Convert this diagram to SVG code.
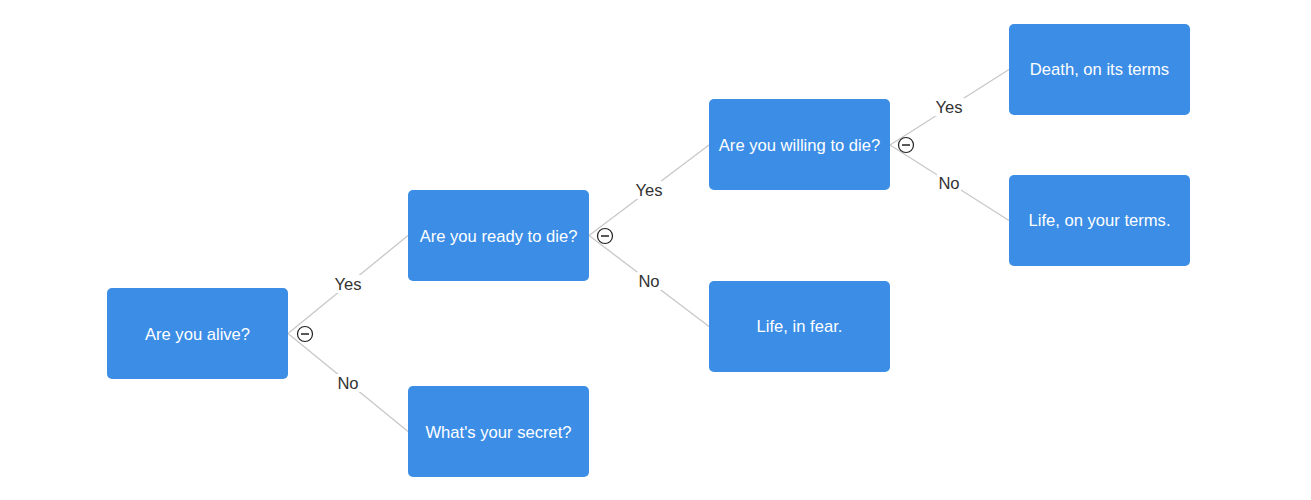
<svg xmlns="http://www.w3.org/2000/svg" width="1311" height="500" viewBox="0 0 1311 500">
<style>
.node rect{fill:#3b8de6;}
.node text{fill:#fff;font-family:"Liberation Sans",Arial,sans-serif;font-size:16.6px;text-anchor:middle;dominant-baseline:central;}
.edge{stroke:#c8c8c8;stroke-width:1.3;fill:none;}
.lbg{fill:#fff;}
.lbl{fill:#333;font-family:"Liberation Sans",Arial,sans-serif;font-size:16.6px;text-anchor:middle;dominant-baseline:central;}
.tog circle{fill:#fff;stroke:#222;stroke-width:1.2;}
.tog line{stroke:#222;stroke-width:1.5;}
</style>
<rect width="1311" height="500" fill="#fff"/>
<g id="connectors">
<line class="edge" x1="288" y1="333.5" x2="408" y2="235.5"/>
<line class="edge" x1="288" y1="333.5" x2="408" y2="431.5"/>
<line class="edge" x1="589" y1="235.5" x2="709" y2="145"/>
<line class="edge" x1="589" y1="235.5" x2="709" y2="326.5"/>
<line class="edge" x1="890" y1="145" x2="1009" y2="69.5"/>
<line class="edge" x1="890" y1="145" x2="1009" y2="220.5"/>
<rect class="lbg" x="333" y="275" width="30" height="18"/>
<text class="lbl" x="348" y="284">Yes</text>
<rect class="lbg" x="336" y="374" width="24" height="18"/>
<text class="lbl" x="348" y="383">No</text>
<rect class="lbg" x="634" y="181" width="30" height="18"/>
<text class="lbl" x="649" y="190">Yes</text>
<rect class="lbg" x="637" y="272" width="24" height="18"/>
<text class="lbl" x="649" y="281">No</text>
<rect class="lbg" x="934" y="98" width="30" height="18"/>
<text class="lbl" x="949" y="107">Yes</text>
<rect class="lbg" x="937" y="174" width="24" height="18"/>
<text class="lbl" x="949" y="183">No</text>
</g>
<g class="tog" id="toggle1"><circle cx="305" cy="334" r="7.5"/><line x1="301" y1="334" x2="309" y2="334"/></g>
<g class="tog" id="toggle2"><circle cx="605" cy="236" r="7.5"/><line x1="601" y1="236" x2="609" y2="236"/></g>
<g class="tog" id="toggle3"><circle cx="906" cy="145" r="7.5"/><line x1="902" y1="145" x2="910" y2="145"/></g>
<g class="node" id="n-alive"><rect x="107" y="288" width="181" height="91" rx="5"/><text x="197.5" y="334">Are you alive?</text></g>
<g class="node" id="n-ready"><rect x="408" y="190" width="181" height="91" rx="5"/><text x="498.5" y="236">Are you ready to die?</text></g>
<g class="node" id="n-secret"><rect x="408" y="386" width="181" height="91" rx="5"/><text x="498.5" y="432">What's your secret?</text></g>
<g class="node" id="n-willing"><rect x="709" y="99" width="181" height="91" rx="5"/><text x="799.5" y="145">Are you willing to die?</text></g>
<g class="node" id="n-fear"><rect x="709" y="281" width="181" height="91" rx="5"/><text x="799.5" y="326">Life, in fear.</text></g>
<g class="node" id="n-death"><rect x="1009" y="24" width="181" height="91" rx="5"/><text x="1099.5" y="69">Death, on its terms</text></g>
<g class="node" id="n-yourterms"><rect x="1009" y="175" width="181" height="91" rx="5"/><text x="1099.5" y="220">Life, on your terms.</text></g>
</svg>
